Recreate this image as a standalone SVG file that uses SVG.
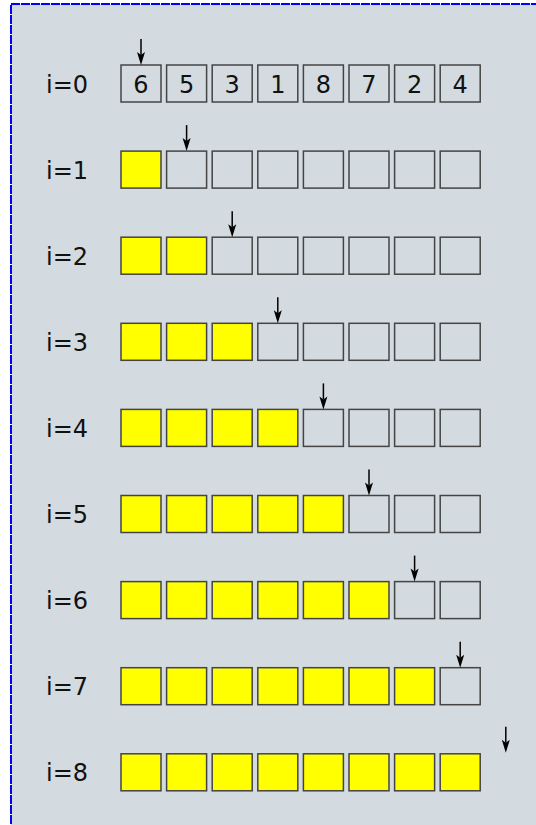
<svg xmlns="http://www.w3.org/2000/svg" width="536" height="825" viewBox="0 0 536 825">
<defs>
<style>
.bg{fill:#d3dbe0;stroke:#0000ff;stroke-width:2;stroke-dasharray:9 1}
.c{fill:#d3dbe0;stroke:#444;stroke-width:1.5}
.y{fill:#ffff00;stroke:#444;stroke-width:1.5}
.t{font-family:"DejaVu Sans",sans-serif;font-size:24px;fill:#111}
.n{font-family:"DejaVu Sans",sans-serif;font-size:24px;fill:#111;text-anchor:middle}
.ar{stroke:#000;stroke-width:1.5;fill:none}
.ah{fill:#000;stroke:none}
</style>
<g id="arrow">
<line class="ar" x1="0" y1="-26" x2="0" y2="-10"/>
<path class="ah" d="M0,0 L-4,-13 L0,-10 L4,-13 Z"/>
</g>
<g id="c"><rect class="c" x="0" y="0" width="40" height="37"/></g>
<g id="y"><rect class="y" x="0" y="0" width="40" height="37"/></g>
</defs>
<rect class="bg" x="11" y="4" width="540" height="840"/>

<g id="row0" transform="translate(0,65)">
<text class="t" x="46" y="27.5">i=0</text>
<use href="#c" x="121"/><use href="#c" x="166.6"/><use href="#c" x="212.2"/><use href="#c" x="257.8"/><use href="#c" x="303.4"/><use href="#c" x="349"/><use href="#c" x="394.6"/><use href="#c" x="440.2"/>
<text class="n" x="141" y="27.5">6</text><text class="n" x="186.6" y="27.5">5</text><text class="n" x="232.2" y="27.5">3</text><text class="n" x="277.8" y="27.5">1</text><text class="n" x="323.4" y="27.5">8</text><text class="n" x="369" y="27.5">7</text><text class="n" x="414.6" y="27.5">2</text><text class="n" x="460.2" y="27.5">4</text>
</g>
<g id="row1" transform="translate(0,151.1)">
<text class="t" x="46" y="27.5">i=1</text>
<use href="#y" x="121"/><use href="#c" x="166.6"/><use href="#c" x="212.2"/><use href="#c" x="257.8"/><use href="#c" x="303.4"/><use href="#c" x="349"/><use href="#c" x="394.6"/><use href="#c" x="440.2"/>
</g>
<g id="row2" transform="translate(0,237.2)">
<text class="t" x="46" y="27.5">i=2</text>
<use href="#y" x="121"/><use href="#y" x="166.6"/><use href="#c" x="212.2"/><use href="#c" x="257.8"/><use href="#c" x="303.4"/><use href="#c" x="349"/><use href="#c" x="394.6"/><use href="#c" x="440.2"/>
</g>
<g id="row3" transform="translate(0,323.3)">
<text class="t" x="46" y="27.5">i=3</text>
<use href="#y" x="121"/><use href="#y" x="166.6"/><use href="#y" x="212.2"/><use href="#c" x="257.8"/><use href="#c" x="303.4"/><use href="#c" x="349"/><use href="#c" x="394.6"/><use href="#c" x="440.2"/>
</g>
<g id="row4" transform="translate(0,409.4)">
<text class="t" x="46" y="27.5">i=4</text>
<use href="#y" x="121"/><use href="#y" x="166.6"/><use href="#y" x="212.2"/><use href="#y" x="257.8"/><use href="#c" x="303.4"/><use href="#c" x="349"/><use href="#c" x="394.6"/><use href="#c" x="440.2"/>
</g>
<g id="row5" transform="translate(0,495.5)">
<text class="t" x="46" y="27.5">i=5</text>
<use href="#y" x="121"/><use href="#y" x="166.6"/><use href="#y" x="212.2"/><use href="#y" x="257.8"/><use href="#y" x="303.4"/><use href="#c" x="349"/><use href="#c" x="394.6"/><use href="#c" x="440.2"/>
</g>
<g id="row6" transform="translate(0,581.6)">
<text class="t" x="46" y="27.5">i=6</text>
<use href="#y" x="121"/><use href="#y" x="166.6"/><use href="#y" x="212.2"/><use href="#y" x="257.8"/><use href="#y" x="303.4"/><use href="#y" x="349"/><use href="#c" x="394.6"/><use href="#c" x="440.2"/>
</g>
<g id="row7" transform="translate(0,667.7)">
<text class="t" x="46" y="27.5">i=7</text>
<use href="#y" x="121"/><use href="#y" x="166.6"/><use href="#y" x="212.2"/><use href="#y" x="257.8"/><use href="#y" x="303.4"/><use href="#y" x="349"/><use href="#y" x="394.6"/><use href="#c" x="440.2"/>
</g>
<g id="row8" transform="translate(0,753.8)">
<text class="t" x="46" y="27.5">i=8</text>
<use href="#y" x="121"/><use href="#y" x="166.6"/><use href="#y" x="212.2"/><use href="#y" x="257.8"/><use href="#y" x="303.4"/><use href="#y" x="349"/><use href="#y" x="394.6"/><use href="#y" x="440.2"/>
</g>

<g id="connectors">
<use href="#arrow" x="141" y="65"/>
<use href="#arrow" x="186.6" y="151.1"/>
<use href="#arrow" x="232.2" y="237.2"/>
<use href="#arrow" x="277.8" y="323.3"/>
<use href="#arrow" x="323.4" y="409.4"/>
<use href="#arrow" x="369" y="495.5"/>
<use href="#arrow" x="414.6" y="581.6"/>
<use href="#arrow" x="460.2" y="667.7"/>
<use href="#arrow" x="505.8" y="752.8"/>
</g>
</svg>
